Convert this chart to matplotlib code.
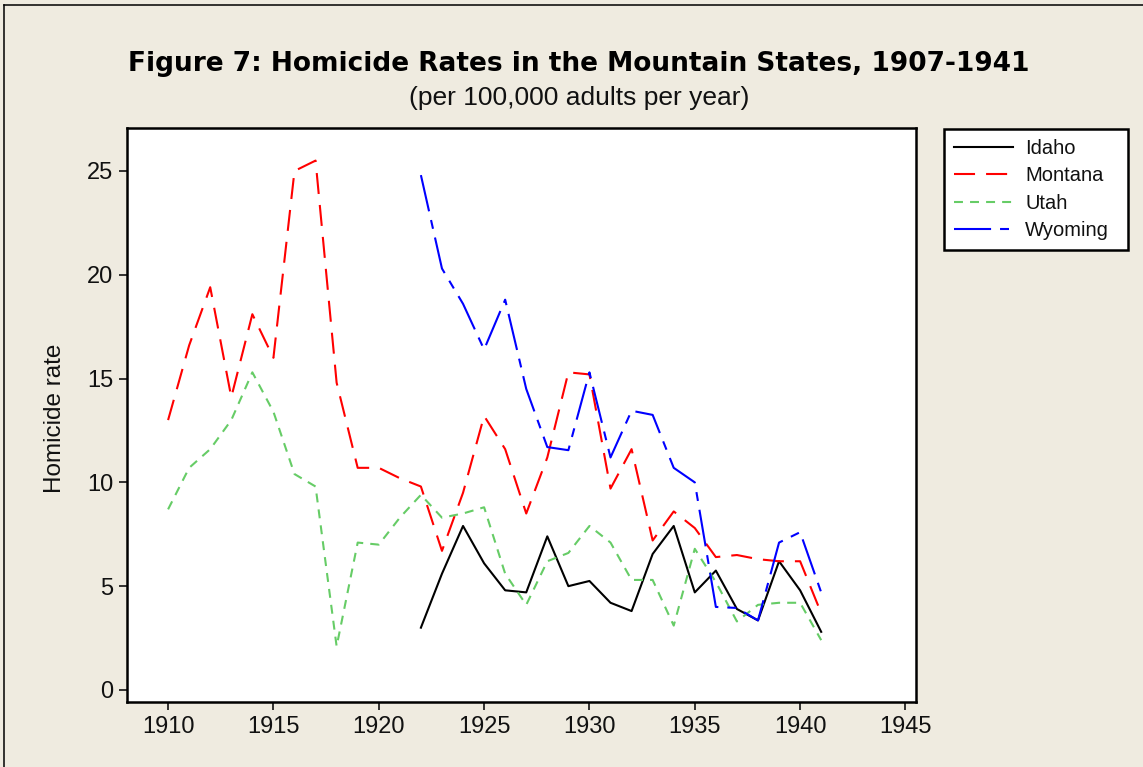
import matplotlib
matplotlib.use("Agg")
import matplotlib.pyplot as plt
from matplotlib.lines import Line2D

years_mt_ut = list(range(1910, 1942))
years_id_wy = list(range(1922, 1942))

montana = [13.0, 16.6, 19.4, 14.1, 18.1, 16.0, 25.0, 25.5, 14.8, 10.7, 10.7, 10.2,
           9.8, 6.7, 9.5, 13.2, 11.6, 8.5, 11.2, 15.3, 15.2, 9.7, 11.6, 7.2,
           8.6, 7.8, 6.4, 6.5, 6.3, 6.2, 6.2, 3.7]
utah = [8.7, 10.7, 11.6, 13.0, 15.3, 13.4, 10.4, 9.8, 2.1, 7.1, 7.0, 8.3,
        9.4, 8.3, 8.5, 8.8, 5.6, 4.1, 6.2, 6.6, 7.9, 7.1, 5.3, 5.3,
        3.1, 6.8, 5.2, 3.3, 4.1, 4.2, 4.2, 2.4]
idaho = [3.0, 5.6, 7.9, 6.1, 4.8, 4.7, 7.4, 5.0, 5.25, 4.2, 3.8, 6.55,
         7.9, 4.7, 5.75, 3.9, 3.35, 6.2, 4.8, 2.8]
wyoming = [24.8, 20.3, 18.6, 16.4, 18.8, 14.5, 11.7, 11.55, 15.3, 11.2, 13.45, 13.25,
           10.7, 10.0, 4.0, 3.95, 3.35, 7.1, 7.6, 4.7]

xticks = [1910, 1915, 1920, 1925, 1930, 1935, 1940, 1945]
yticks = [0, 5, 10, 15, 20, 25]

REG = ["Liberation Sans", "DejaVu Sans"]
BG = "#EFEBE0"
W, H = 1143, 767
fig = plt.figure(figsize=(W / 100, H / 100), dpi=100, facecolor=BG)
# partial figure border (top and left)
fig.add_artist(Line2D([4 / W, 1], [1 - 5 / H, 1 - 5 / H], transform=fig.transFigure,
                      color="black", lw=1.1))
fig.add_artist(Line2D([4 / W, 4 / W], [0, 1 - 5 / H], transform=fig.transFigure,
                      color="black", lw=1.1))

ax = fig.add_axes([127 / W, (H - 702) / H, (916 - 127) / W, (702 - 128) / H])
ax.set_facecolor("white")
lw = 1.5
ax.plot(years_id_wy, idaho, color="black", lw=lw, label="Idaho")
ax.plot(years_mt_ut, montana, color="#FF0000", lw=lw, dashes=(10.1, 5.3), label="Montana")
ax.plot(years_mt_ut, utah, color="#66CC66", lw=lw, dashes=(4.3, 3.4), label="Utah")
ax.plot(years_id_wy, wyoming, color="#0000FF", lw=lw, dashes=(17.8, 4.3, 4.3, 4.3), label="Wyoming")

ax.set_xlim(1908.05, 1945.5)
ax.set_ylim(-0.58, 27.07)
ax.set_xticks(xticks)
ax.set_yticks(yticks)
ax.tick_params(direction="out", length=6, width=1.1, colors="black", pad=4)
for lab in ax.get_xticklabels() + ax.get_yticklabels():
    lab.set_family(REG)
    lab.set_fontsize(17)
    lab.set_color("#111111")
for s in ax.spines.values():
    s.set_linewidth(1.8)
ax.set_ylabel("Homicide rate", fontsize=17.5, family=REG, color="#111111")
ax.yaxis.set_label_coords((66 - 127) / 789, 0.495)

fig.text(579 / W, 1 - 71 / H, "Figure 7: Homicide Rates in the Mountain States, 1907-1941",
         ha="center", va="baseline", fontsize=19, fontweight="bold", family="DejaVu Sans")
fig.text(579 / W, 1 - 105 / H, "(per 100,000 adults per year)",
         ha="center", va="baseline", fontsize=19, family=REG, color="#111111")

leg = ax.legend(loc="upper left",
                bbox_to_anchor=(944 / W, 1 - 249 / H, (1128 - 944) / W, (249 - 129) / H),
                bbox_transform=fig.transFigure, mode="expand", frameon=True, fancybox=False,
                edgecolor="black", facecolor="white", framealpha=1,
                prop={"family": REG, "size": 14.5}, handlelength=2.95, borderpad=0.48,
                labelspacing=0.42, handletextpad=0.6, borderaxespad=0)
leg.get_frame().set_linewidth(1.8)
for t in leg.get_texts():
    t.set_color("#111111")

fig.savefig("out.png", dpi=100, facecolor=BG)
